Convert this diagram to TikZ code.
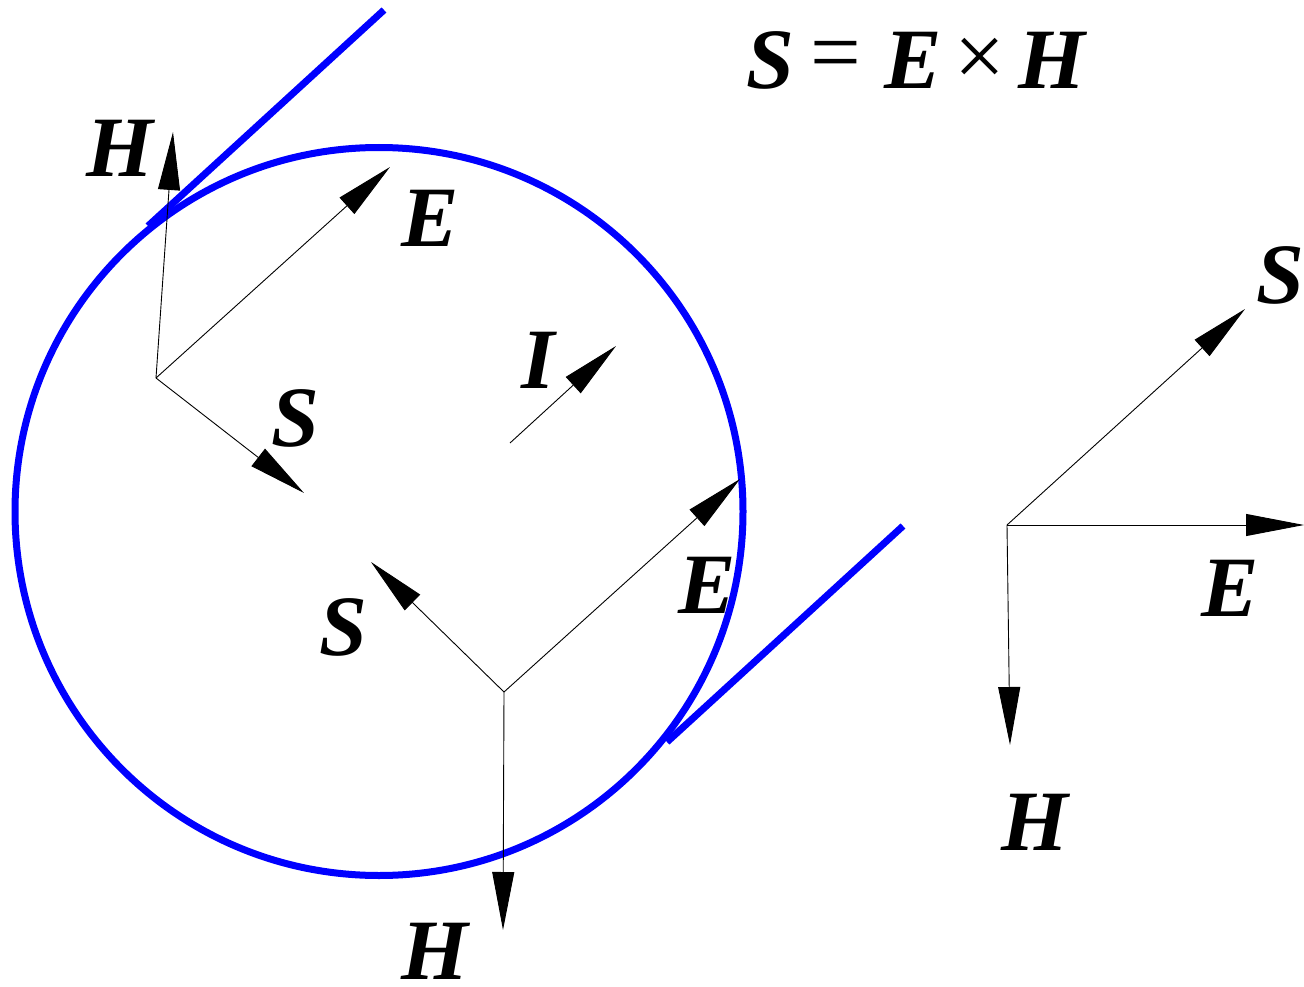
\documentclass[tikz,border=0pt]{standalone}
\usepackage{fontspec}
\setmainfont{Liberation Serif}
\usetikzlibrary{arrows.meta}
\begin{document}
\begin{tikzpicture}[x=1pt,y=-1pt,
  vec/.style={line width=0.9pt,-{Triangle[length=58pt,width=22pt]}},
  wire/.style={draw=blue,line width=7pt},
  lbl/.style={inner sep=0pt,font=\fontsize{86}{90}\selectfont\bfseries\itshape},
  op/.style={inner sep=0pt,font=\fontsize{90}{94}\selectfont}]
\useasboundingbox (0,0) rectangle (1304,987);
% circle and tangent wires
\draw[wire] (379,511.5) circle (364pt);
\coordinate (w1a) at (148,226); \coordinate (w1b) at (384,10);
\coordinate (w2a) at (667,742); \coordinate (w2b) at (903,526);
\draw[wire] (w1a) -- (w1b);
\draw[wire] (w2a) -- (w2b);
% upper-left triad
\coordinate (o1) at (156,378);
\coordinate (h1) at (173,132);
\coordinate (e1) at (390,167);
\coordinate (s1) at (304,493);
\draw[vec] (o1) -- (h1);
\draw[vec] (o1) -- (e1);
\draw[vec] (o1) -- (s1);
% current
\coordinate (i0) at (510,443);
\coordinate (i1) at (616,346);
\draw[vec] (i0) -- (i1);
% lower triad
\coordinate (o2) at (504,692);
\coordinate (s2) at (371,562);
\coordinate (e2) at (740,479);
\coordinate (h2) at (503,930);
\draw[vec] (o2) -- (s2);
\draw[vec] (o2) -- (e2);
\draw[vec] (o2) -- (h2);
% right triad
\coordinate (o3) at (1007,525);
\coordinate (s3) at (1245,309);
\coordinate (e3) at (1304,525);
\coordinate (h3) at (1010,745);
\draw[vec] (o3) -- (s3);
\draw[vec] (o3) -- (e3);
\draw[vec] (o3) -- (h3);
% labels
\node[lbl] (lh1) at (120,148) {H};
\node[lbl] (le1) at (430,218) {E};
\node[lbl] (li) at (538,360) {I};
\node[lbl] (ls1) at (295,418) {S};
\node[lbl] (ls2) at (343,627) {S};
\node[lbl] (le2) at (707,585) {E};
\node[lbl] (lh2) at (435,951) {H};
\node[lbl] (ls3) at (1280,275) {S};
\node[lbl] (le3) at (1230,588) {E};
\node[lbl] (lh3) at (1035,822) {H};
% equation S = E x H
\node[lbl] (eqs) at (770,60) {S};
\node[op] (eqeq) at (836,62) {=};
\node[lbl] (eqe) at (913,60) {E};
\node[op] (eqx) at (980,62) {×};
\node[lbl] (eqh) at (1052,60) {H};
\end{tikzpicture}
\end{document}
